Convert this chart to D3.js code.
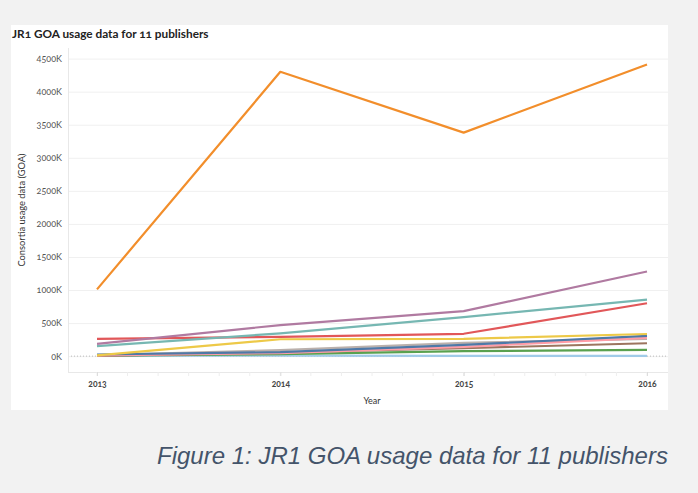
<!DOCTYPE html>
<html>
<head>
<meta charset="utf-8">
<script src="https://cdn.jsdelivr.net/npm/d3@7"></script>
<style>
  body { margin: 0; background: #f2f2f2; }
  svg { display: block; }
  .tick text, .lbl { font-family: Lato, "Open Sans", sans-serif; font-variant-numeric: oldstyle-nums; }
</style>
</head>
<body>
<div id="chart"></div>
<script>
// years on the x axis
const years = [2013, 2014, 2015, 2016];

// publisher series, usage in thousands (K), one value per year
const publisherNames = ["P1", "P2", "P3", "P4", "P5", "P6", "P7", "P8", "P9", "P10", "P11"];
const seriesValues = [
  [1010, 4300, 3380, 4410],
  [185, 470, 680, 1280],
  [150, 345, 590, 855],
  [262, 290, 338, 800],
  [10, 255, 262, 335],
  [25, 60, 170, 305],
  [10, 45, 140, 275],
  [15, 90, 200, 262],
  [5, 55, 120, 195],
  [8, 30, 75, 95],
  [2, 8, 5, 5]
];
const seriesColors = ["#f28e2b", "#b07aa1", "#76b7b2", "#e15759", "#edc948", "#4e79a7",
  "#ff9da7", "#bab0ac", "#9c755f", "#59a14f", "#a0cbe8"];

// y ticks in K
const yTicks = [0, 500, 1000, 1500, 2000, 2500, 3000, 3500, 4000, 4500];

const W = 698, H = 493;
const svg = d3.select("#chart").append("svg").attr("width", W).attr("height", H);

// white panel
svg.append("rect").attr("x", 11).attr("y", 25).attr("width", 657).attr("height", 385).attr("fill", "#fff");

const plot = { left: 68, right: 668, top: 48, bottom: 372 };

const xScale = d3.scaleLinear().domain([2013, 2016]).range([97, 647]);
const yScale = d3.scaleLinear().domain([-240, 4660]).range([plot.bottom, plot.top]);

// title
svg.append("text").attr("x", 12).attr("y", 38)
  .attr("font-family", "Lato, sans-serif").attr("font-weight", "bold")
  .attr("font-size", 11.8).attr("fill", "#222")
  .style("font-variant-numeric", "oldstyle-nums")
  .text("JR1 GOA usage data for 11 publishers");

// y gridlines + labels
const yAxis = d3.axisLeft(yScale).tickValues(yTicks)
  .tickSize(-(plot.right - plot.left)).tickPadding(6)
  .tickFormat((v) => v + "K");
const gy = svg.append("g").attr("transform", `translate(${plot.left},0)`).call(yAxis);
gy.select(".domain").remove();
gy.selectAll(".tick line").attr("stroke", "#f0f0f0");
gy.selectAll(".tick text").attr("font-size", 9).attr("fill", "#555");

// zero line (dotted)
svg.append("line").attr("x1", plot.left).attr("x2", plot.right)
  .attr("y1", yScale(0)).attr("y2", yScale(0))
  .attr("stroke", "#bbb").attr("stroke-dasharray", "1,2");

// frame: left and bottom
svg.append("line").attr("x1", plot.left + 0.5).attr("x2", plot.left + 0.5)
  .attr("y1", plot.top).attr("y2", plot.bottom).attr("stroke", "#e8e8e8");
svg.append("line").attr("x1", plot.left).attr("x2", plot.right)
  .attr("y1", plot.bottom + 0.5).attr("y2", plot.bottom + 0.5).attr("stroke", "#e8e8e8");

// minor ticks every two months
const minor = d3.range(2013, 2016.01, 1 / 6);
svg.append("g").selectAll("line").data(minor).join("line")
  .attr("x1", (d) => xScale(d)).attr("x2", (d) => xScale(d))
  .attr("y1", plot.bottom).attr("y2", plot.bottom + 4)
  .attr("stroke", "#eee");

// x axis
const xAxis = d3.axisBottom(xScale).tickValues(years).tickFormat(d3.format("d"))
  .tickSize(4).tickPadding(5);
const gx = svg.append("g").attr("transform", `translate(0,${plot.bottom})`).call(xAxis);
gx.select(".domain").remove();
gx.selectAll(".tick line").attr("stroke", "#ddd");
gx.selectAll(".tick text").attr("font-size", 8.5).attr("font-weight", "bold").attr("fill", "#444");

// axis titles
svg.append("text").attr("class", "lbl").attr("x", 372).attr("y", 404)
  .attr("text-anchor", "middle").attr("font-size", 9).attr("fill", "#333").text("Year");
svg.append("text").attr("class", "lbl")
  .attr("transform", "translate(25,210) rotate(-90)")
  .attr("text-anchor", "middle").attr("font-size", 9.3).attr("fill", "#333")
  .text("Consortia usage data (GOA)");

// lines (draw small ones first, big ones on top)
const line = d3.line().x((d, i) => xScale(years[i])).y((d) => yScale(d));
const order = d3.range(seriesValues.length).reverse();
svg.append("g").selectAll("path").data(order).join("path")
  .attr("d", (i) => line(seriesValues[i]))
  .attr("fill", "none")
  .attr("stroke", (i) => seriesColors[i])
  .attr("stroke-width", 2.2)
  .attr("stroke-linejoin", "round");

// caption
svg.append("text").attr("x", 157).attr("y", 464)
  .attr("font-family", "'Liberation Sans', Arial, sans-serif")
  .attr("font-style", "italic").attr("font-size", 24).attr("fill", "#44546a")
  .text("Figure 1: JR1 GOA usage data for 11 publishers");
</script>
</body>
</html>
